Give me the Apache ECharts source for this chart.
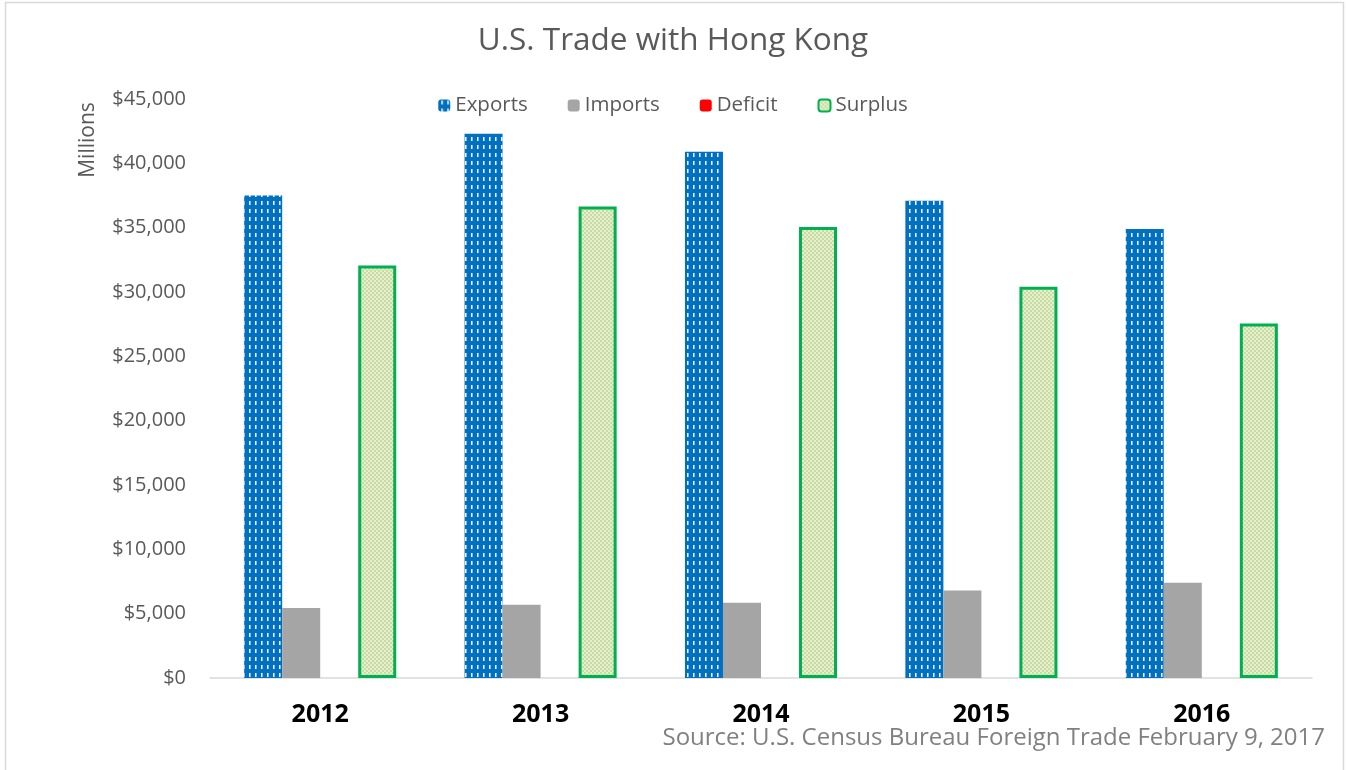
<!DOCTYPE html>
<html>
<head>
<meta charset="utf-8">
<script src="https://cdn.jsdelivr.net/npm/echarts@6/dist/echarts.min.js"></script>
<style>
html,body{margin:0;padding:0;background:#fff;}
#main{width:1346px;height:770px;}
</style>
</head>
<body>
<div id="main"></div>
<script>
var years = ['2012', '2013', '2014', '2015', '2016'];
var exportsData = [37500, 42300, 40900, 37100, 34900];
var importsData = [5450, 5700, 5850, 6800, 7400];
var deficitData = [null, null, null, null, null];
var surplusData = [32050, 36650, 35050, 30400, 27550];

// blue with white vertical dashes
function dashTile() {
	var c = document.createElement('canvas');
	c.width = 6; c.height = 8;
	var g = c.getContext('2d');
	g.fillStyle = '#0070C0';
	g.fillRect(0, 0, 6, 8);
	g.fillStyle = '#ffffff';
	g.fillRect(3, 1, 1.5, 4);
	return c;
}
// light green checker
function checkTile() {
	var c = document.createElement('canvas');
	c.width = 4; c.height = 4;
	var g = c.getContext('2d');
	g.fillStyle = '#e6efd2';
	g.fillRect(0, 0, 4, 4);
	g.fillStyle = '#c9dc9f';
	g.fillRect(0, 0, 2, 2);
	g.fillRect(2, 2, 2, 2);
	return c;
}

var chart = echarts.init(document.getElementById('main'));
var font = '"Open Sans", Lato, sans-serif';

var option = {
	backgroundColor: '#fff',
	animation: false,
	title: {
		text: 'U.S. Trade with Hong Kong',
		left: 'center',
		top: 20,
		textStyle: { fontFamily: font, fontSize: 31.5, fontWeight: 'normal', color: '#595959' }
	},
	legend: {
		top: 90,
		left: 'center',
		itemWidth: 12,
		itemHeight: 12,
		itemGap: 40,
		textStyle: { fontFamily: font, fontSize: 20.5, color: '#595959' },
		data: ['Exports', 'Imports', 'Deficit', 'Surplus']
	},
	grid: { left: 210, right: 34, top: 99, bottom: 92 },
	xAxis: {
		type: 'category',
		data: years,
		axisLine: { lineStyle: { color: '#d9d9d9', width: 1.5 } },
		axisTick: { show: false },
		axisLabel: { margin: 24, fontFamily: font, fontSize: 25, fontWeight: 'bold', color: '#000' }
	},
	yAxis: {
		type: 'value',
		min: 0,
		max: 45000,
		interval: 5000,
		axisLine: { show: false },
		axisTick: { show: false },
		splitLine: { show: false },
		axisLabel: {
			margin: 24,
			fontFamily: font,
			fontSize: 20,
			color: '#595959',
			formatter: function (v) { return '$' + v.toLocaleString('en-US'); }
		}
	},
	series: [{
		name: 'Exports',
		type: 'bar',
		barGap: '0%',
		barCategoryGap: '31%',
		itemStyle: { color: { image: dashTile(), repeat: 'repeat' } },
		data: exportsData
	}, {
		name: 'Imports',
		type: 'bar',
		itemStyle: { color: '#a5a5a5' },
		data: importsData
	}, {
		name: 'Deficit',
		type: 'bar',
		itemStyle: { color: '#ff0000' },
		data: deficitData
	}, {
		name: 'Surplus',
		type: 'bar',
		itemStyle: { color: { image: checkTile(), repeat: 'repeat' }, borderColor: '#00B050', borderWidth: 3 },
		data: surplusData
	}],
	graphic: [{
		type: 'rect',
		shape: { x: 5.5, y: 2.5, width: 1338, height: 780 },
		style: { fill: 'none', stroke: '#d9d9d9', lineWidth: 1.5 },
		silent: true
	}, {
		type: 'text',
		x: 88,
		y: 140,
		rotation: Math.PI / 2,
		style: { text: 'Millions', fontFamily: font, fontSize: 21, fill: '#595959', textAlign: 'center', textVerticalAlign: 'middle' }
	}, {
		type: 'text',
		right: 21,
		top: 726,
		style: { text: 'Source: U.S. Census Bureau Foreign Trade February 9, 2017', fontFamily: font, fontSize: 24, fill: '#808080' }
	}]
};

chart.setOption(option);
window.onresize = function () { chart.resize(); };
</script>
</body>
</html>
